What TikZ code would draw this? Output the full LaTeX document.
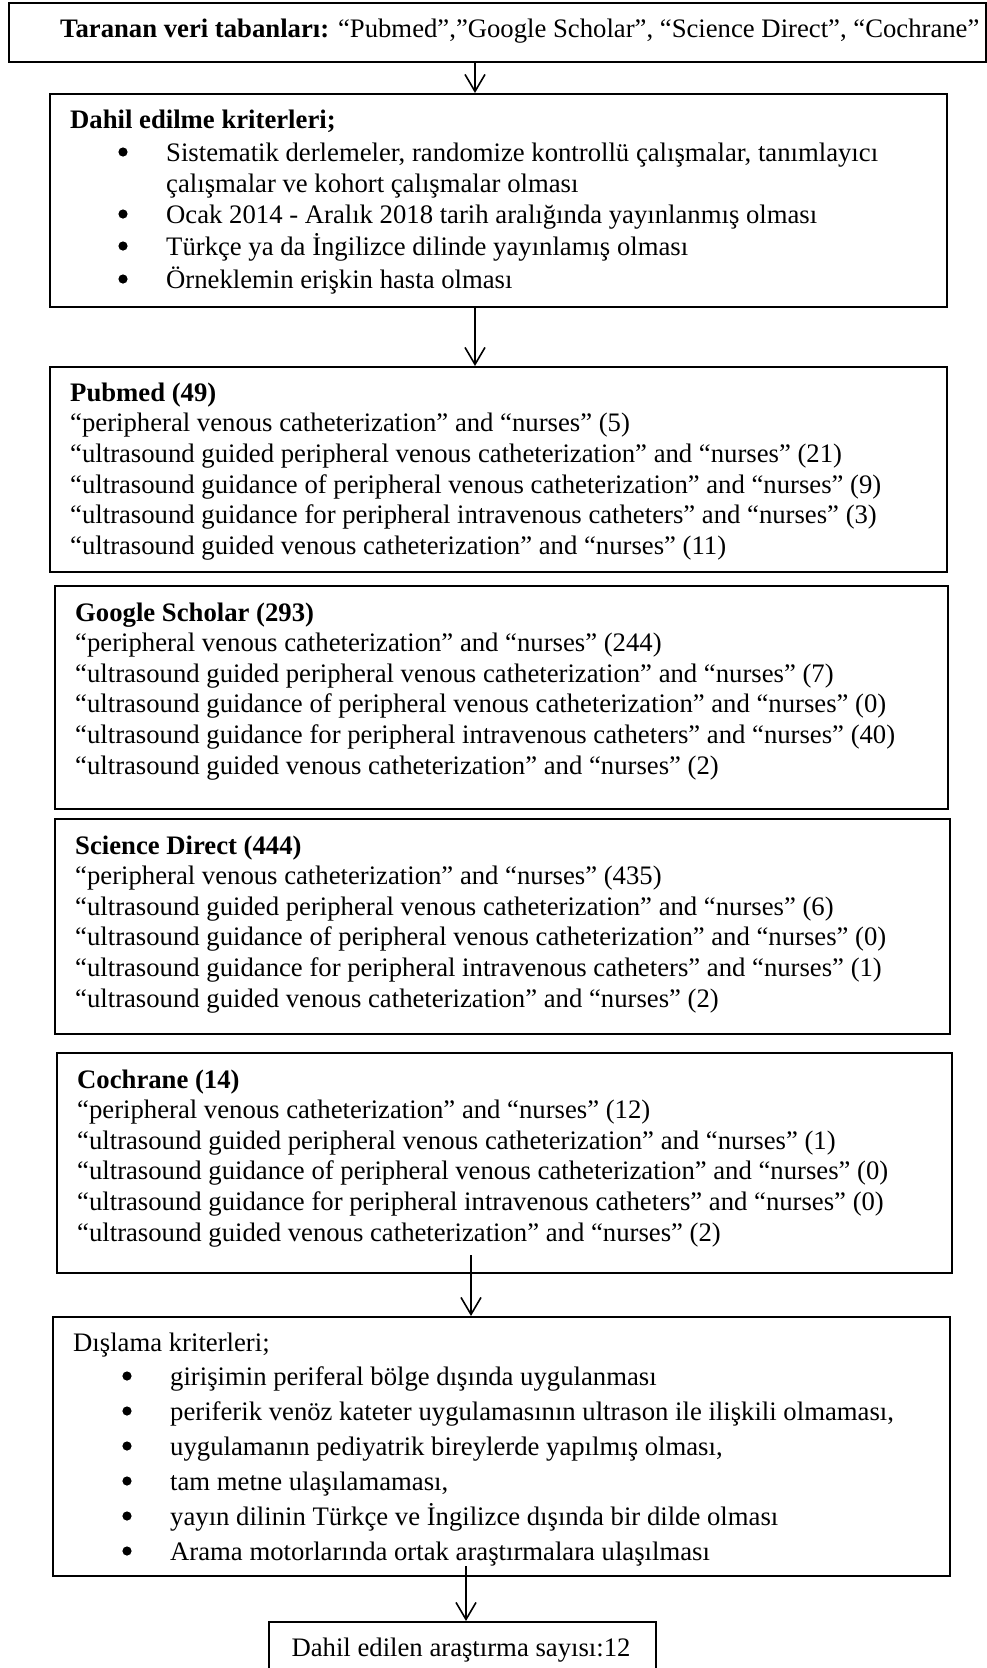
\documentclass[tikz,border=0pt]{standalone}
\usepackage{fontspec}
\setmainfont{Liberation Serif}
\usetikzlibrary{arrows.meta}
\newcommand\fs{\fontsize{26.7pt}{30.7pt}\selectfont}
\begin{document}
\begin{tikzpicture}[x=1pt,y=-1pt,
  box/.style={draw, line width=2pt, rectangle, anchor=north west, inner sep=0pt},
  txt/.style={anchor=base west, inner sep=0pt, font=\fs},
  ctxt/.style={anchor=base, inner sep=0pt, font=\fs},
  arr/.style={line width=1.6pt, -{Straight Barb[length=17pt,width=20pt,line width=1.6pt]}},
  bul/.style={fill=black}
]
\useasboundingbox (0,0) rectangle (987,1668);
% boxes
\node[box, minimum width=977pt, minimum height=59pt] (b1) at (8,2) {};
\node[box, minimum width=897pt, minimum height=213pt] (b2) at (49,93) {};
\node[box, minimum width=897pt, minimum height=205pt] (b3) at (49,366) {};
\node[box, minimum width=893pt, minimum height=223pt] (b4) at (54,585) {};
\node[box, minimum width=895pt, minimum height=215pt] (b5) at (54,818) {};
\node[box, minimum width=895pt, minimum height=220pt] (b6) at (56,1052) {};
\node[box, minimum width=897pt, minimum height=259pt] (b7) at (52,1316) {};
\node[box, minimum width=387pt, minimum height=62pt] (b8) at (268,1621) {};
% connectors
\coordinate (x1) at (475,0);
\coordinate (s3) at (471,1255);
\coordinate (s4) at (466,1566);
\draw[arr] (b1.south -| x1) -- (b2.north -| x1);
\draw[arr] (b2.south -| x1) -- (b3.north -| x1);
\draw[arr] (s3) -- (b7.north -| s3);
\draw[arr] (s4) -- (b8.north -| s4);
% box 1
\node[txt] (t1) at (60,37) {\textbf{Taranan veri tabanları:} “Pubmed”,”Google Scholar”, “Science Direct”, “Cochrane”};
% box 2
\node[txt] (t2a) at (70,128) {\textbf{Dahil edilme kriterleri;}};
\node[txt] (t2b) at (166,161) {Sistematik derlemeler, randomize kontrollü çalışmalar, tanımlayıcı};
\node[txt] (t2c) at (166,192) {çalışmalar ve kohort çalışmalar olması};
\node[txt] (t2d) at (166,223) {Ocak 2014 - Aralık 2018 tarih aralığında yayınlanmış olması};
\node[txt] (t2e) at (166,255) {Türkçe ya da İngilizce dilinde yayınlamış olması};
\node[txt] (t2f) at (166,288) {Örneklemin erişkin hasta olması};
\foreach \yy in {161,223,255,288} \fill[bul] (123,\yy-9) circle (4.6);
% box 3
\node[txt] (t3a) at (70,401) {\textbf{Pubmed (49)}};
\node[txt] (t3b) at (70,431.7) {“peripheral venous catheterization” and “nurses” (5)};
\node[txt] (t3c) at (70,462.4) {“ultrasound guided peripheral venous catheterization” and “nurses” (21)};
\node[txt] (t3d) at (70,493.1) {“ultrasound guidance of peripheral venous catheterization” and “nurses” (9)};
\node[txt] (t3e) at (70,523.8) {“ultrasound guidance for peripheral intravenous catheters” and “nurses” (3)};
\node[txt] (t3f) at (70,554.5) {“ultrasound guided venous catheterization” and “nurses” (11)};
% box 4
\node[txt] (t4a) at (75,621) {\textbf{Google Scholar (293)}};
\node[txt] (t4b) at (75,651.6) {“peripheral venous catheterization” and “nurses” (244)};
\node[txt] (t4c) at (75,682.2) {“ultrasound guided peripheral venous catheterization” and “nurses” (7)};
\node[txt] (t4d) at (75,712.8) {“ultrasound guidance of peripheral venous catheterization” and “nurses” (0)};
\node[txt] (t4e) at (75,743.4) {“ultrasound guidance for peripheral intravenous catheters” and “nurses” (40)};
\node[txt] (t4f) at (75,774) {“ultrasound guided venous catheterization” and “nurses” (2)};
% box 5
\node[txt] (t5a) at (75,854) {\textbf{Science Direct (444)}};
\node[txt] (t5b) at (75,884.6) {“peripheral venous catheterization” and “nurses” (435)};
\node[txt] (t5c) at (75,915.2) {“ultrasound guided peripheral venous catheterization” and “nurses” (6)};
\node[txt] (t5d) at (75,945.8) {“ultrasound guidance of peripheral venous catheterization” and “nurses” (0)};
\node[txt] (t5e) at (75,976.4) {“ultrasound guidance for peripheral intravenous catheters” and “nurses” (1)};
\node[txt] (t5f) at (75,1007) {“ultrasound guided venous catheterization” and “nurses” (2)};
% box 6
\node[txt] (t6a) at (77,1088) {\textbf{Cochrane (14)}};
\node[txt] (t6b) at (77,1118.6) {“peripheral venous catheterization” and “nurses” (12)};
\node[txt] (t6c) at (77,1149.2) {“ultrasound guided peripheral venous catheterization” and “nurses” (1)};
\node[txt] (t6d) at (77,1179.8) {“ultrasound guidance of peripheral venous catheterization” and “nurses” (0)};
\node[txt] (t6e) at (77,1210.4) {“ultrasound guidance for peripheral intravenous catheters” and “nurses” (0)};
\node[txt] (t6f) at (77,1241) {“ultrasound guided venous catheterization” and “nurses” (2)};
% box 7
\node[txt] (t7a) at (73,1351) {Dışlama kriterleri;};
\node[txt] (t7b) at (170,1385) {girişimin periferal bölge dışında uygulanması};
\node[txt] (t7c) at (170,1420) {periferik venöz kateter uygulamasının ultrason ile ilişkili olmaması,};
\node[txt] (t7d) at (170,1455) {uygulamanın pediyatrik bireylerde yapılmış olması,};
\node[txt] (t7e) at (170,1490) {tam metne ulaşılamaması,};
\node[txt] (t7f) at (170,1525) {yayın dilinin Türkçe ve İngilizce dışında bir dilde olması};
\node[txt] (t7g) at (170,1560) {Arama motorlarında ortak araştırmalara ulaşılması};
\foreach \yy in {1385,1420,1455,1490,1525,1560} \fill[bul] (127,\yy-9) circle (4.6);
% box 8
\node[ctxt] (t8) at (461,1656) {Dahil edilen araştırma sayısı:12};
\end{tikzpicture}
\end{document}
